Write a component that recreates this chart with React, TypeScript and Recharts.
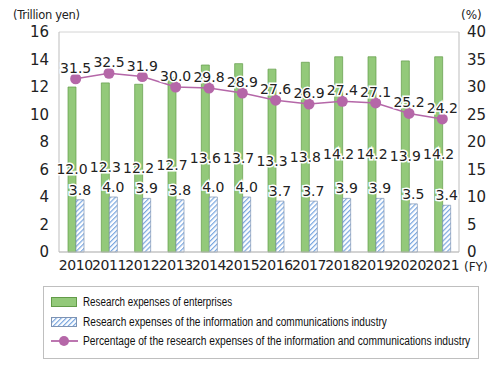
import { useLayoutEffect, useRef, useState } from "react"
import { ComposedChart, Bar, Line, XAxis, YAxis, CartesianGrid, LabelList } from "recharts"

const years = ["2010", "2011", "2012", "2013", "2014", "2015", "2016", "2017", "2018", "2019", "2020", "2021"]
const enterprise = [12.0, 12.3, 12.2, 12.7, 13.6, 13.7, 13.3, 13.8, 14.2, 14.2, 13.9, 14.2]
const ictIndustry = [3.8, 4.0, 3.9, 3.8, 4.0, 4.0, 3.7, 3.7, 3.9, 3.9, 3.5, 3.4]
const share = [31.5, 32.5, 31.9, 30.0, 29.8, 28.9, 27.6, 26.9, 27.4, 27.1, 25.2, 24.2]
const leftTicks = [0, 2, 4, 6, 8, 10, 12, 14, 16]
const rightTicks = [0, 5, 10, 15, 20, 25, 30, 35, 40]
const legendNames = [
  "Research expenses of enterprises",
  "Research expenses of the information and communications industry",
  "Percentage of the research expenses of the information and communications industry",
]

const data = years.map((y, i) => ({
  year: y,
  enterprise: enterprise[i],
  ict: ictIndustry[i],
  share: share[i],
}))

const GREEN = "#93c97a"
const GREEN_EDGE = "#629b48"
const BLUE = "#7aa7e0"
const PURPLE = "#b567a8"
const FONT = "'DejaVu Sans', Verdana, sans-serif"

// labels get a white halo like the original
const labelStyle = {
  fontSize: 14,
  fontFamily: FONT,
  fill: "#222",
  stroke: "#fff",
  strokeWidth: 3,
  paintOrder: "stroke",
} as const

const fmt = (v: any) => Number(v).toFixed(1)

const Stripes = ({ id }: { id: string }) => (
  <pattern id={id} patternUnits="userSpaceOnUse" width="3.5" height="3.5" patternTransform="rotate(45)">
    <rect width="3.5" height="3.5" fill="#fff" />
    <line x1="0" y1="0" x2="0" y2="3.5" stroke={BLUE} strokeWidth="2.4" />
  </pattern>
)

// the reference legend uses a condensed face, squeeze a normal one to the same width
function NarrowText({ text, width, top }: { text: string; width: number; top: number }) {
  const ref = useRef<HTMLSpanElement>(null)
  const [sx, setSx] = useState(1)
  useLayoutEffect(() => {
    if (ref.current) setSx(width / ref.current.offsetWidth)
  }, [text, width])
  return (
    <span
      ref={ref}
      style={{
        position: "absolute",
        left: 40,
        top,
        whiteSpace: "nowrap",
        fontSize: 12,
        fontFamily: "'Liberation Sans', Arial, sans-serif",
        color: "#111",
        transform: `scaleX(${sx})`,
        transformOrigin: "0 0",
      }}
    >
      {text}
    </span>
  )
}

export default function App() {
  const tickFont = { fontSize: 15, fontFamily: FONT, fill: "#222" }
  const legendWidths = [149, 304, 387]
  return (
    <div style={{ position: "absolute", left: 0, top: 0, width: 502, height: 365, background: "#fff" }}>
      <ComposedChart
        width={502}
        height={365}
        data={data}
        margin={{ top: 32, right: 0, left: 0, bottom: 83 }}
        barGap={0}
      >
        <defs>
          <Stripes id="ictStripes" />
        </defs>
        <CartesianGrid vertical={false} stroke="#d4d4d4" />
        <XAxis
          dataKey="year"
          height={30}
          tickLine={false}
          axisLine={{ stroke: "#bdbdbd" }}
          tick={{ ...tickFont, fontSize: 14, letterSpacing: -0.4 }}
          interval={0}
          tickMargin={2}
        />
        <YAxis
          yAxisId="left"
          width={59}
          domain={[0, 16]}
          ticks={leftTicks}
          tickLine={false}
          axisLine={{ stroke: "#bdbdbd" }}
          tick={tickFont}
          tickMargin={4}
        />
        <YAxis
          yAxisId="right"
          orientation="right"
          width={43}
          domain={[0, 40]}
          ticks={rightTicks}
          tickLine={false}
          axisLine={{ stroke: "#bdbdbd" }}
          tick={tickFont}
          tickMargin={2}
        />
        <Bar
          yAxisId="left"
          dataKey="enterprise"
          barSize={8}
          fill={GREEN}
          stroke={GREEN_EDGE}
          strokeWidth={0.7}
          isAnimationActive={false}
        >
          <LabelList dataKey="enterprise" position="center" formatter={fmt} style={labelStyle} />
        </Bar>
        <Bar
          yAxisId="left"
          dataKey="ict"
          barSize={8}
          fill="url(#ictStripes)"
          stroke="#7d93b3"
          strokeWidth={0.7}
          isAnimationActive={false}
        >
          <LabelList dataKey="ict" position="top" formatter={fmt} style={labelStyle} />
        </Bar>
        <Line
          yAxisId="right"
          dataKey="share"
          stroke={PURPLE}
          strokeWidth={1.5}
          dot={{ r: 5.5, fill: PURPLE, stroke: PURPLE, strokeWidth: 0 }}
          isAnimationActive={false}
        >
          <LabelList dataKey="share" position="top" offset={6} formatter={fmt} style={labelStyle} />
        </Line>
      </ComposedChart>

      <div style={{ position: "absolute", left: 13, top: 8, fontSize: 11.5, letterSpacing: -0.3, fontFamily: FONT, color: "#222" }}>
        (Trillion yen)
      </div>
      <div style={{ position: "absolute", left: 461, top: 8, fontSize: 12, fontFamily: FONT, color: "#222" }}>(%)</div>
      <div style={{ position: "absolute", left: 464, top: 260, fontSize: 12, fontFamily: FONT, color: "#222" }}>(FY)</div>

      {/* legend box drawn by hand, it sits below the plot */}
      <div style={{ position: "absolute", left: 43, top: 286, width: 436, height: 73 }}>
        <svg style={{ position: "absolute", left: 0, top: 0 }} width={436} height={73}>
          <defs>
            <Stripes id="legendStripes" />
          </defs>
          <rect x={0.5} y={0.5} width={435} height={72} fill="#fff" stroke="#bfbfbf" />
          <rect x={8.5} y={11.5} width={25} height={9} fill={GREEN} stroke={GREEN_EDGE} />
          <rect x={8.5} y={31.5} width={25} height={9} fill="url(#legendStripes)" stroke="#7d93b3" />
          <line x1={8} y1={55} x2={35} y2={55} stroke={PURPLE} strokeWidth={1.8} />
          <circle cx={21} cy={55} r={5} fill={PURPLE} />
        </svg>
        {legendNames.map((name, i) => (
          <NarrowText key={name} text={name} width={legendWidths[i]} top={9 + i * 19.5} />
        ))}
      </div>
    </div>
  )
}
